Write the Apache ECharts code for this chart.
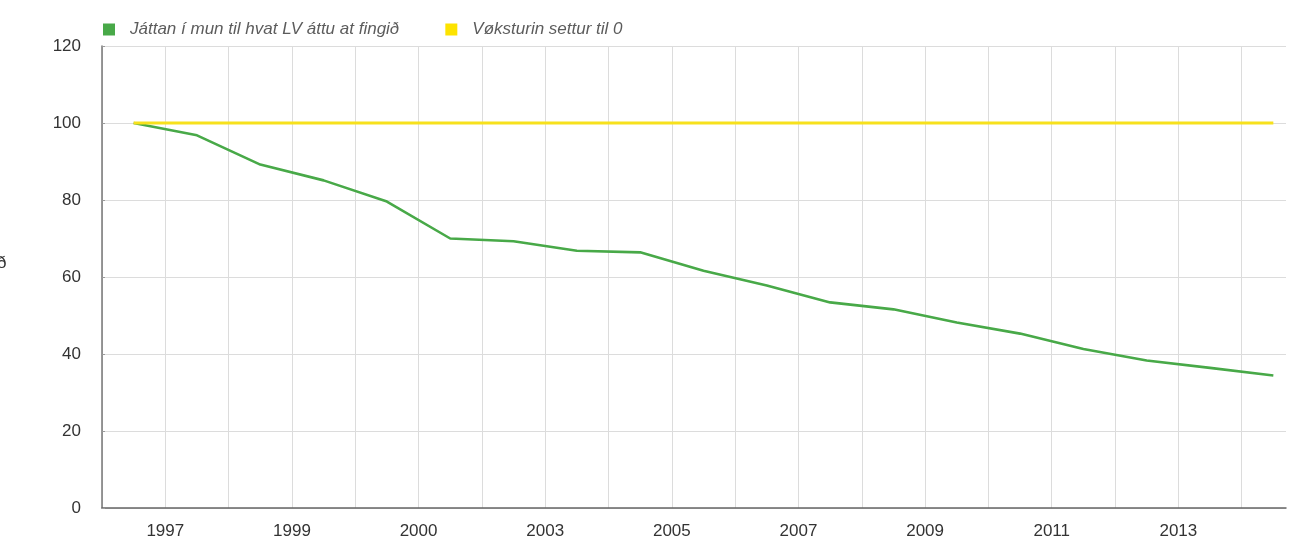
<!DOCTYPE html>
<html>
<head>
<meta charset="utf-8">
<script src="https://cdn.jsdelivr.net/npm/echarts@6/dist/echarts.min.js"></script>
<style>
html,body{margin:0;padding:0;background:#fff;}
#chart{width:1304px;height:541px;}
</style>
</head>
<body>
<div id="chart"></div>
<script>
// Data
var years = [1996,1997,1998,1999,2000,2001,2002,2003,2004,2005,2006,2007,2008,2009,2010,2011,2012,2013,2014];
var seriesNames = ['Játtan í mun til hvat LV áttu at fingið', 'Vøksturin settur til 0'];
var actualValues = [100, 96.8, 89.2, 85.1, 79.6, 70.0, 69.3, 66.8, 66.4, 61.6, 57.8, 53.4, 51.6, 48.2, 45.3, 41.3, 38.3, 36.4, 34.4];
var zeroGrowthValues = [100,100,100,100,100,100,100,100,100,100,100,100,100,100,100,100,100,100,100];
var xTickLabels = ['1997','1999','2000','2003','2005','2007','2009','2011','2013'];
var yTicks = [0,20,40,60,80,100,120];

var chart = echarts.init(document.getElementById('chart'), null, {renderer:'canvas'});
var FONT = 'Liberation Sans, Helvetica, Arial, sans-serif';

function toPoints(vals){ return vals.map(function(v,i){ return [i + 0.5, v]; }); }

chart.setOption({
  animation:false,
  backgroundColor:'#ffffff',
  textStyle:{fontFamily:FONT},
  legend:{
    left:98, top:16,
    icon:'rect', itemWidth:12, itemHeight:12, itemGap:46,
    textStyle:{fontFamily:FONT, fontStyle:'italic', fontSize:17, color:'#5c5c5c', padding:[0,0,0,10]},
    data:seriesNames
  },
  grid:{left:102, right:18, top:46, bottom:33, containLabel:false},
  xAxis:{
    type:'value', min:0, max:18.7, interval:1,
    axisLine:{show:true, lineStyle:{color:'#666', width:1.5}},
    axisTick:{show:false},
    splitLine:{show:true, showMaxLine:false, lineStyle:{color:'#dcdcdc', width:1}},
    axisLabel:{
      margin:15, fontSize:17, color:'#333', fontFamily:FONT,
      showMaxLabel:false,
      formatter:function(v){
        var r = Math.round(v);
        if (Math.abs(v - r) > 1e-6 || r % 2 !== 1) return '';
        var k = (r - 1) / 2;
        return xTickLabels[k] || '';
      }
    }
  },
  yAxis:{
    type:'value', min:yTicks[0], max:yTicks[yTicks.length-1], interval:20,
    axisLine:{show:true, lineStyle:{color:'#777', width:1.5}},
    axisTick:{show:true, inside:true, length:3, lineStyle:{color:'#999'}},
    splitLine:{show:true, lineStyle:{color:'#dcdcdc', width:1}},
    axisLabel:{margin:21, fontSize:17, color:'#333', fontFamily:FONT}
  },
  graphic:[{
    type:'text', left:-3, top:255,
    style:{text:'ð', fontSize:17, fill:'#333', fontFamily:FONT}
  }],
  series:[
    {
      name:seriesNames[0], type:'line', data:toPoints(actualValues),
      symbol:'none', z:2,
      itemStyle:{color:'#48a948'},
      lineStyle:{color:'#48a948', width:2.6}
    },
    {
      name:seriesNames[1], type:'line', data:toPoints(zeroGrowthValues),
      symbol:'none', z:3,
      itemStyle:{color:'#fde300'},
      lineStyle:{color:'#f7e11c', width:2.8}
    }
  ]
});
</script>
</body>
</html>
